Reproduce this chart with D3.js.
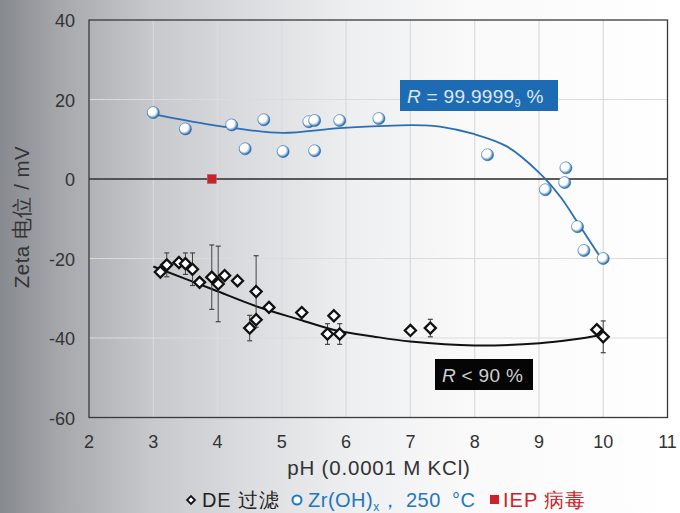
<!DOCTYPE html>
<html>
<head>
<meta charset="utf-8">
<script src="https://cdn.jsdelivr.net/npm/d3@7"></script>
<style>
  html, body { margin: 0; padding: 0; background: #fff; }
  svg { display: block; font-family: "Liberation Sans", Arial, sans-serif; }
</style>
</head>
<body>
<div id="chart"><svg></svg></div>
<script>
// Zr(OH)x, 250 °C  (blue spheres)
var zrPh    = [3.0, 3.5, 4.22, 4.43, 4.72, 5.02, 5.42, 5.51, 5.51, 5.9, 6.51, 8.2, 9.1, 9.42, 9.4, 9.6, 9.7, 10.0];
var zrZeta  = [16.7, 12.6, 13.6, 7.6, 14.9, 6.9, 14.4, 14.7, 7.1, 14.7, 15.2, 6.1, -2.7, 2.8, -0.9, -12.0, -18.0, -20.0];

// DE 过滤 (black diamonds), err = half length of the error bar (0 = none)
var dePh    = [3.11, 3.21, 3.40, 3.50, 3.61, 3.72, 3.91, 4.01, 4.11, 4.31, 4.60, 4.80, 4.60, 4.50, 5.31, 5.81, 5.71, 5.90, 7.00, 7.31, 9.90, 10.0];
var deZeta  = [-23.4, -21.6, -21.0, -21.3, -22.7, -26.0, -24.7, -26.4, -24.3, -25.6, -28.3, -32.3, -35.4, -37.5, -33.6, -34.4, -39.0, -39.0, -38.1, -37.5, -37.9, -39.7];
var deErr   = [0, 3.0, 0, 2.7, 4.1, 0, 8.1, 9.5, 0, 0, 9.0, 0, 0, 3.2, 0, 0, 2.6, 2.6, 0, 2.2, 0, 4.0];

// IEP 病毒
var iepPh   = [3.91];
var iepZeta = [0];

// fitted curves
var zrFitPh   = [3.0, 3.31, 3.83, 4.35, 5.01, 5.9, 6.84, 7.19, 7.46, 7.97, 8.5, 9.01, 9.33, 9.64, 9.95, 10.0];
var zrFitZeta = [16.3, 15.3, 13.8, 12.6, 11.6, 12.8, 13.5, 13.5, 13.2, 11.4, 8.2, 1.5, -4.4, -11.9, -19.5, -20.5];
var deFitPh   = [3.0, 3.93, 4.6, 5.28, 5.8, 6.42, 7.0, 8.0, 9.01, 9.53, 10.0];
var deFitZeta = [-22.0, -27.8, -32.0, -35.4, -37.9, -39.6, -40.9, -41.9, -41.3, -40.4, -39.2];

var xTicks = [2, 3, 4, 5, 6, 7, 8, 9, 10, 11];
var yTicks = [-60, -40, -20, 0, 20, 40];

var width = 680, height = 513;
var svg = d3.select("#chart svg").attr("width", width).attr("height", height);
var defs = svg.append("defs");

// background fades from grey on the left to white
var bg = defs.append("linearGradient").attr("id", "bg")
    .attr("x1", "0").attr("x2", "1").attr("y1", "0").attr("y2", "0");
[[0, "#86898e"], [0.09, "#a6a8ac"], [0.22, "#c6c8cb"], [0.37, "#dcdde0"], [0.52, "#eeeff0"], [0.68, "#f9f9fa"], [1, "#ffffff"]]
  .forEach(function(s) { bg.append("stop").attr("offset", s[0]).attr("stop-color", s[1]); });

var ball = defs.append("radialGradient").attr("id", "ball")
    .attr("cx", "0.42").attr("cy", "0.42").attr("r", "0.62").attr("fx", "0.35").attr("fy", "0.32");
[[0, "#ffffff"], [0.55, "#ffffff"], [0.72, "#9cc0e2"], [0.9, "#2f6fae"], [1, "#1d5a99"]]
  .forEach(function(s) { ball.append("stop").attr("offset", s[0]).attr("stop-color", s[1]); });

svg.append("rect").attr("width", width).attr("height", height).attr("fill", "url(#bg)");

var x = d3.scaleLinear().domain([2, 11]).range([89, 667.5]);
var y = d3.scaleLinear().domain([-60, 40]).range([417.5, 20]);

// grid
var g = svg.append("g");
g.selectAll(".vgrid").data(xTicks.slice(1, -1)).enter().append("line")
    .attr("x1", function(d) { return x(d); }).attr("x2", function(d) { return x(d); })
    .attr("y1", y(40)).attr("y2", y(-60))
    .style("stroke", "#dadbdd").style("stroke-width", 1.2);
g.selectAll(".hgrid").data(yTicks.slice(1, -1)).enter().append("line")
    .attr("x1", x(2)).attr("x2", x(11))
    .attr("y1", function(d) { return y(d); }).attr("y2", function(d) { return y(d); })
    .style("stroke", "#dadbdd").style("stroke-width", 1.2);

// zero line and frame
g.append("line").attr("x1", x(2)).attr("x2", x(11)).attr("y1", y(0)).attr("y2", y(0))
    .style("stroke", "#2b2b2b").style("stroke-width", 1.4);
g.append("rect").attr("x", x(2)).attr("y", y(40)).attr("width", x(11) - x(2)).attr("height", y(-60) - y(40))
    .style("fill", "none").style("stroke", "#3a3a3a").style("stroke-width", 1.3);

// tick labels
svg.selectAll(".xt").data(xTicks).enter().append("text")
    .attr("x", function(d) { return x(d); }).attr("y", 448)
    .attr("text-anchor", "middle").style("font-size", "18px").style("fill", "#333")
    .text(function(d) { return d; });
svg.selectAll(".yt").data(yTicks).enter().append("text")
    .attr("x", 75).attr("y", function(d) { return y(d) + 7; })
    .attr("text-anchor", "end").style("font-size", "18px").style("fill", "#333")
    .text(function(d) { return d; });

// axis titles
svg.append("text").attr("x", 379).attr("y", 475).attr("text-anchor", "middle")
    .style("font-size", "20.5px").style("letter-spacing", "0.8px").style("fill", "#333").text("pH (0.0001 M KCl)");
svg.append("text").attr("transform", "translate(29,217) rotate(-90)").attr("text-anchor", "middle")
    .style("font-size", "20.5px").style("letter-spacing", "0.5px").style("fill", "#333").text("Zeta 电位 / mV");

// fitted curves
var line = d3.line().x(function(d) { return x(d[0]); }).y(function(d) { return y(d[1]); }).curve(d3.curveCatmullRom);
g.append("path").datum(d3.zip(zrFitPh, zrFitZeta)).attr("d", line)
    .style("fill", "none").style("stroke", "#2a6fb4").style("stroke-width", 1.8);
g.append("path").datum(d3.zip(deFitPh, deFitZeta)).attr("d", line)
    .style("fill", "none").style("stroke", "#111").style("stroke-width", 2);

// error bars
var de = d3.zip(dePh, deZeta, deErr);
var eb = g.selectAll(".err").data(de.filter(function(d) { return d[2] > 0; })).enter().append("g");
eb.append("line")
    .attr("x1", function(d) { return x(d[0]); }).attr("x2", function(d) { return x(d[0]); })
    .attr("y1", function(d) { return y(d[1] + d[2]); }).attr("y2", function(d) { return y(d[1] - d[2]); })
    .style("stroke", "#444").style("stroke-width", 1);
[1, -1].forEach(function(s) {
  eb.append("line")
      .attr("x1", function(d) { return x(d[0]) - 2.5; }).attr("x2", function(d) { return x(d[0]) + 2.5; })
      .attr("y1", function(d) { return y(d[1] + s * d[2]); }).attr("y2", function(d) { return y(d[1] + s * d[2]); })
      .style("stroke", "#444").style("stroke-width", 1.2);
});

// diamonds
var diamond = d3.symbol().type(d3.symbolDiamond2).size(78);
g.selectAll(".de").data(de).enter().append("path")
    .attr("d", diamond)
    .attr("transform", function(d) { return "translate(" + x(d[0]) + "," + y(d[1]) + ")"; })
    .style("fill", "#fff").style("stroke", "#111").style("stroke-width", 2.3);

// spheres
g.selectAll(".zr").data(d3.zip(zrPh, zrZeta)).enter().append("circle")
    .attr("cx", function(d) { return x(d[0]); }).attr("cy", function(d) { return y(d[1]); })
    .attr("r", 6).style("fill", "url(#ball)").style("stroke", "#2d6aa8").style("stroke-width", 0.6);

// IEP
g.selectAll(".iep").data(d3.zip(iepPh, iepZeta)).enter().append("rect")
    .attr("x", function(d) { return x(d[0]) - 4.5; }).attr("y", function(d) { return y(d[1]) - 4.5; })
    .attr("width", 9).attr("height", 9).style("fill", "#c8222a").style("stroke", "#a86a6a").style("stroke-width", 0.6);

// R annotations
var note1 = svg.append("g");
note1.append("rect").attr("x", 400).attr("y", 80).attr("width", 158).attr("height", 31).style("fill", "#1d6cb3");
var t1 = note1.append("text").attr("x", 407).attr("y", 103).style("font-size", "19px").style("letter-spacing", "0.3px").style("fill", "#dde7f2");
t1.append("tspan").style("font-style", "italic").text("R");
t1.append("tspan").text(" = 99.9999");
t1.append("tspan").attr("dy", 4).style("font-size", "11px").text("9");
t1.append("tspan").attr("dy", -4).text(" %");

var note2 = svg.append("g");
note2.append("rect").attr("x", 435).attr("y", 359).attr("width", 98).attr("height", 31).style("fill", "#050505");
var t2 = note2.append("text").attr("x", 442).attr("y", 382).style("font-size", "19px").style("letter-spacing", "0.3px").style("fill", "#cfcfcf");
t2.append("tspan").style("font-style", "italic").text("R");
t2.append("tspan").text(" < 90 %");

// legend
var leg = svg.append("g").style("font-size", "20px");
leg.append("path").attr("d", d3.symbol().type(d3.symbolDiamond2).size(40))
    .attr("transform", "translate(191,500)").style("fill", "#fff").style("stroke", "#111").style("stroke-width", 1.8);
leg.append("text").attr("x", 202).attr("y", 507).style("fill", "#222").style("letter-spacing", "0.8px").text("DE 过滤");
leg.append("circle").attr("cx", 297).attr("cy", 500).attr("r", 4.5)
    .style("fill", "#fff").style("stroke", "#1f77c0").style("stroke-width", 2);
var lt = leg.append("text").attr("y", 507).style("fill", "#1f77c0").style("letter-spacing", "0.5px");
lt.append("tspan").attr("x", 308).text("Zr(OH)");
lt.append("tspan").attr("dy", 4).style("font-size", "12px").text("x");
lt.append("tspan").attr("dy", -4).text("，");
lt.append("tspan").attr("x", 406).text("250");
lt.append("tspan").attr("x", 452).text("°C");
leg.append("rect").attr("x", 490).attr("y", 495).attr("width", 9).attr("height", 9).style("fill", "#d0202a");
leg.append("text").attr("x", 503).attr("y", 507).style("fill", "#d0202a").style("letter-spacing", "1px").text("IEP 病毒");
</script>
</body>
</html>
